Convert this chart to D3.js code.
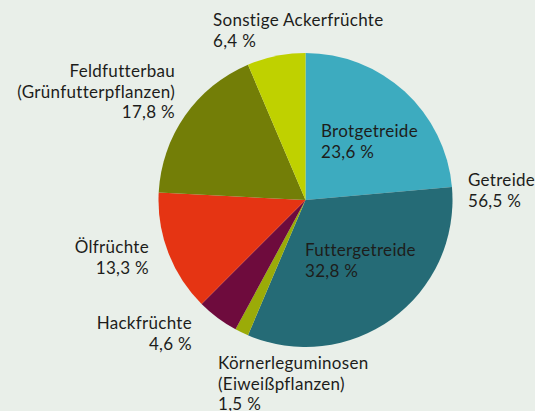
<!DOCTYPE html>
<html>
<head>
<meta charset="utf-8">
<script src="https://cdn.jsdelivr.net/npm/d3@7.9.0/dist/d3.min.js"></script>
<style>
  html, body { margin: 0; padding: 0; background: #e9efe9; }
  svg { display: block; }
  text { font-family: Lato, "Open Sans", sans-serif; font-size: 17px; letter-spacing: 0.3px; fill: #1d1d1b; }
</style>
</head>
<body>
<svg id="chart" width="535" height="411"></svg>
<script>
// slices, clockwise from 12 o'clock
const categories = ['Brotgetreide', 'Futtergetreide', 'Körnerleguminosen', 'Hackfrüchte', 'Ölfrüchte', 'Feldfutterbau', 'Sonstige Ackerfrüchte'];
const values = [23.6, 32.8, 1.5, 4.6, 13.3, 17.8, 6.4];
const colors = ['#3dabbf', '#256b76', '#9bab08', '#6e0b3d', '#e53413', '#737e07', '#bfd100'];

// label text lines per slice, plus the summary label for Getreide
const labelLines = [
  ['Brotgetreide', '23,6 %'],
  ['Futtergetreide', '32,8 %'],
  ['Körnerleguminosen', '(Eiweißpflanzen)', '1,5 %'],
  ['Hackfrüchte', '4,6 %'],
  ['Ölfrüchte', '13,3 %'],
  ['Feldfutterbau', '(Grünfutterpflanzen)', '17,8 %'],
  ['Sonstige Ackerfrüchte', '6,4 %']
];
const totalLabel = ['Getreide', '56,5 %'];

const svg = d3.select('#chart');
const cx = 305.5, cy = 200, r = 147;

const pie = d3.pie().sort(null).value(d => d);
const arcs = pie(values);
const arc = d3.arc().innerRadius(0).outerRadius(r);

const g = svg.append('g').attr('transform', `translate(${cx},${cy})`);

g.selectAll('path')
  .data(arcs)
  .enter()
  .append('path')
  .attr('d', arc)
  .attr('fill', (d, i) => colors[i]);

// label anchor spots (first baseline), picked by eye
const labelPos = [
  { x: 321, y: 137, anchor: 'start' },
  { x: 305, y: 256, anchor: 'start' },
  { x: 218, y: 369, anchor: 'start' },
  { x: 192, y: 329, anchor: 'end' },
  { x: 149, y: 253, anchor: 'end' },
  { x: 175, y: 77, anchor: 'end' },
  { x: 213, y: 26, anchor: 'start' }
];
const lineH = 20.7;

function drawLabel(lines, p) {
  const t = svg.append('text')
    .attr('text-anchor', p.anchor);
  lines.forEach((s, j) => {
    t.append('tspan').attr('x', p.x).attr('y', p.y + j * lineH).text(s);
  });
}

labelLines.forEach((lines, i) => drawLabel(lines, labelPos[i]));
drawLabel(totalLabel, { x: 468, y: 186, anchor: 'start' });
</script>
</body>
</html>
